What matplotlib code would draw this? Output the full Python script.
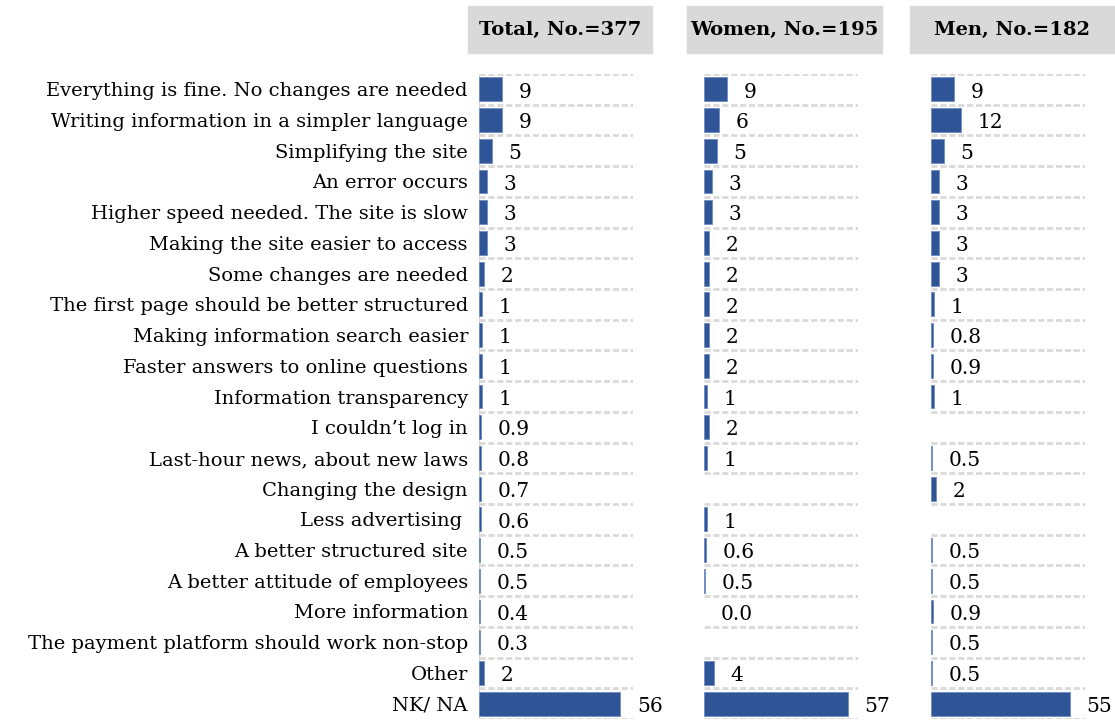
import matplotlib
matplotlib.use("Agg")
import matplotlib.pyplot as plt
from matplotlib.patches import Rectangle

categories = [
    "Everything is fine. No changes are needed",
    "Writing information in a simpler language",
    "Simplifying the site",
    "An error occurs",
    "Higher speed needed. The site is slow",
    "Making the site easier to access",
    "Some changes are needed",
    "The first page should be better structured",
    "Making information search easier",
    "Faster answers to online questions",
    "Information transparency",
    "I couldn\u2019t log in",
    "Last-hour news, about new laws",
    "Changing the design",
    "Less advertising ",
    "A better structured site",
    "A better attitude of employees",
    "More information",
    "The payment platform should work non-stop",
    "Other",
    "NK/ NA",
]

total = [9, 9, 5, 3, 3, 3, 2, 1, 1, 1, 1, 0.9, 0.8, 0.7, 0.6, 0.5, 0.5, 0.4, 0.3, 2, 56]
women = [9, 6, 5, 3, 3, 2, 2, 2, 2, 2, 1, 2, 1, None, 1, 0.6, 0.5, 0.0, None, 4, 57]
men = [9, 12, 5, 3, 3, 3, 3, 1, 0.8, 0.9, 1, None, 0.5, 2, None, 0.5, 0.5, 0.9, 0.5, 0.5, 55]

titles = ["Total, No.=377", "Women, No.=195", "Men, No.=182"]

BAR = "#2F5597"
GRID = "#D9D9D9"
FONT = ["DejaVu Serif"]
W, H = 1115, 720

fig = plt.figure(figsize=(W / 100, H / 100), dpi=100)
plt.rcParams["font.family"] = FONT

# panel left edges and header boxes, in pixels
panel_x = [479, 704, 931]
boxes = [(468, 652), (687, 882), (910, 1115)]
ax_w = 154
top_px, bot_px = 74, 719
n = len(categories)


def fmt(v):
    return f"{v:.0f}" if v >= 1 else f"{v:.1f}"


for k, (vals, title) in enumerate(zip([total, women, men], titles)):
    ax = fig.add_axes([panel_x[k] / W, 1 - bot_px / H, ax_w / W, (bot_px - top_px) / H])
    ax.set_xlim(0, 61)
    ax.set_ylim(n, 0)
    for i, v in enumerate(vals):
        if v is None:
            continue
        if v > 0:
            ax.barh(i + 0.5, v, height=0.78, color=BAR, edgecolor="#6F8CC4", linewidth=0.6)
        ax.annotate(fmt(v), (v, i + 0.5), xytext=(12, -2), textcoords="offset points",
                    va="center", ha="left", fontsize=14.5, color="black")
    for y in range(n + 1):
        ax.axhline(y, color=GRID, lw=2, ls=(0, (2.2, 1)), zorder=0)
    for s in ax.spines.values():
        s.set_visible(False)
    ax.set_xticks([])
    if k == 0:
        ax.axvline(0, color=GRID, lw=1.5, zorder=0)
        ax.set_yticks([i + 0.5 for i in range(n)])
        ax.set_yticklabels(categories, fontsize=14)
        ax.tick_params(axis="y", length=0, pad=8)
    else:
        ax.set_yticks([])
    ax.patch.set_alpha(0)

    x0, x1 = boxes[k]
    fig.patches.append(Rectangle((x0 / W, 1 - 53 / H), (x1 - x0) / W, 47 / H,
                                 transform=fig.transFigure, color=GRID, zorder=0))
    fig.text((x0 + x1) / 2 / W, 1 - 30 / H, title, ha="center", va="center",
             fontsize=14, fontweight="bold")

fig.savefig("out.png", dpi=100)
